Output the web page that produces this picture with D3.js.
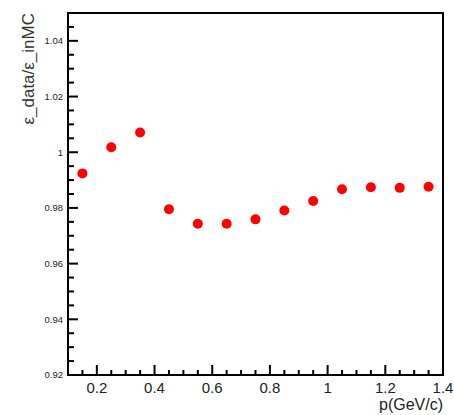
<!DOCTYPE html>
<html><head><meta charset="utf-8">
<script src="https://cdn.jsdelivr.net/npm/d3@7"></script>
<style>body{margin:0;background:#fff}svg{display:block}text{font-family:"Liberation Sans",Arial,sans-serif}</style>
</head><body>
<script>
const pValues = [0.15,0.25,0.35,0.45,0.55,0.65,0.75,0.85,0.95,1.05,1.15,1.25,1.35];
const ratioValues = [0.9924,1.0018,1.0071,0.9795,0.9743,0.9743,0.9759,0.9791,0.9825,0.9867,0.9874,0.9872,0.9876];
const xTickLabels = [0.2,0.4,0.6,0.8,1,1.2,1.4];
const yTickLabels = [0.92,0.94,0.96,0.98,1,1.02,1.04];

const W=454,H=415;
const m={l:68,r:11,t:13,b:40};
const svg=d3.select("body").append("svg").attr("width",W).attr("height",H);
const x=d3.scaleLinear().domain([0.1,1.4]).range([m.l,W-m.r]);
const y=d3.scaleLinear().domain([0.92,1.05]).range([H-m.b,m.t]);

const g=svg.append("g");
// frame
g.append("rect").attr("x",x(0.1)).attr("y",y(1.05)).attr("width",x(1.4)-x(0.1)).attr("height",y(0.92)-y(1.05))
 .attr("fill","none").attr("stroke","#000").attr("stroke-width",2);

// y ticks
const yMinor=d3.range(0,27).map(i=>+(0.92+i*0.005).toFixed(3));
g.selectAll(".ym").data(yMinor).join("line")
 .attr("x1",x(0.1)).attr("x2",d=>x(0.1)+(yTickLabels.some(v=>Math.abs(v-d)<1e-6)?10:6))
 .attr("y1",d=>y(d)).attr("y2",d=>y(d)).attr("stroke","#000").attr("stroke-width",2);
g.selectAll(".yl").data(yTickLabels).join("text")
 .attr("x",x(0.1)-5).attr("y",d=>y(d)).attr("dy","0.35em").attr("text-anchor","end")
 .attr("font-size",9.5).attr("fill","#222").text(d=>d3.format("")(d));

// x ticks
const xMinor=d3.range(0,27).map(i=>+(0.1+i*0.05).toFixed(3));
g.selectAll(".xm").data(xMinor).join("line")
 .attr("x1",d=>x(d)).attr("x2",d=>x(d))
 .attr("y1",y(0.92)).attr("y2",d=>y(0.92)-(xTickLabels.some(v=>Math.abs(v-d)<1e-6)?10:5))
 .attr("stroke","#000").attr("stroke-width",2);
g.selectAll(".xl").data(xTickLabels).join("text")
 .attr("x",d=>x(d)).attr("y",y(0.92)+18).attr("text-anchor","middle")
 .attr("font-size",15).attr("fill","#222").text(d=>d3.format("")(d));

// titles
svg.append("text").attr("x",x(1.4)).attr("y",H-5).attr("text-anchor","end")
 .attr("font-size",16).attr("fill","#222").text("p(GeV/c)");
svg.append("text").attr("transform",`translate(34,${m.t}) rotate(-90)`).attr("text-anchor","end")
 .attr("font-size",17).attr("fill","#333").text("ε_data/ε_inMC");

// points
g.selectAll(".pt").data(pValues.map((p,i)=>[p,ratioValues[i]])).join("circle")
 .attr("cx",d=>x(d[0])).attr("cy",d=>y(d[1])).attr("r",5).attr("fill","#ff0000");
</script>
</body></html>
